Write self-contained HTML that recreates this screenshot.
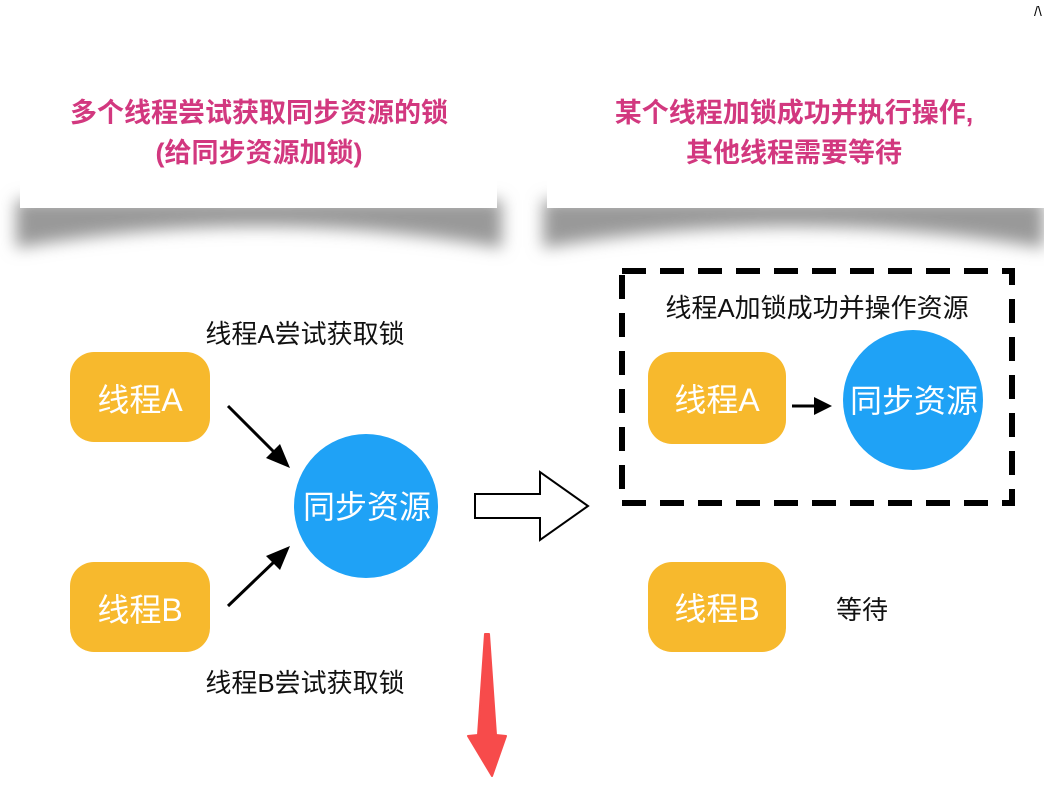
<!DOCTYPE html>
<html><head><meta charset="utf-8"><style>
body{margin:0;width:1044px;height:780px;overflow:hidden;background:#fff;font-family:"Liberation Sans","Noto Sans CJK SC",sans-serif;}
</style></head><body>
<svg width="1044" height="780" viewBox="0 0 1044 780" xmlns="http://www.w3.org/2000/svg" font-family="Liberation Sans, Noto Sans CJK SC, sans-serif">
<defs>
<filter id="b" x="-10%" y="-50%" width="120%" height="200%"><feGaussianBlur stdDeviation="8"/></filter>
</defs>
<path d="M16,200 L502,200 L502,248 Q260,205 16,248 Z" fill="#999" filter="url(#b)"/>
<path d="M543,200 L1044,200 L1044,248 Q790,205 543,248 Z" fill="#999" filter="url(#b)"/>
<rect x="20" y="57" width="477" height="151" fill="#fff"/>
<rect x="547" y="57" width="497" height="151" fill="#fff"/>
<g fill="#d2387f" font-size="27" font-weight="bold" text-anchor="middle">
<text x="259" y="122">多个线程尝试获取同步资源的锁</text>
<text x="259" y="162">(给同步资源加锁)</text>
<text x="794" y="122">某个线程加锁成功并执行操作,</text>
<text x="794" y="162">其他线程需要等待</text>
</g>
<rect x="70" y="352" width="140" height="90" rx="24" fill="#f7b92d"/>
<rect x="70" y="562" width="140" height="90" rx="24" fill="#f7b92d"/>
<circle cx="366" cy="506" r="72" fill="#1fa2f6"/>
<g fill="#fff" font-size="32" text-anchor="middle">
<text x="140" y="411">线程A</text>
<text x="140" y="621">线程B</text>
<text x="367" y="518">同步资源</text>
</g>
<g fill="#111" font-size="26" text-anchor="middle">
<text x="305" y="343">线程A尝试获取锁</text>
<text x="305" y="692">线程B尝试获取锁</text>
</g>
<line x1="228" y1="406" x2="276" y2="454" stroke="#000" stroke-width="3"/>
<polygon points="290,468 266,458 280,444" fill="#000"/>
<line x1="228" y1="606" x2="276" y2="560" stroke="#000" stroke-width="3"/>
<polygon points="290,546 280,570 266,556" fill="#000"/>
<polygon points="475,494 540,494 540,472 588,506 540,540 540,518 475,518" fill="#fff" stroke="#000" stroke-width="2"/>
<rect x="622" y="271" width="390" height="232" fill="none" stroke="#000" stroke-width="6" stroke-dasharray="24,14"/>
<text x="817" y="317" fill="#111" font-size="26" text-anchor="middle">线程A加锁成功并操作资源</text>
<rect x="648" y="352" width="138" height="92" rx="24" fill="#f7b92d"/>
<rect x="648" y="562" width="138" height="90" rx="24" fill="#f7b92d"/>
<circle cx="913" cy="400" r="70" fill="#1fa2f6"/>
<g fill="#fff" font-size="32" text-anchor="middle">
<text x="717" y="411">线程A</text>
<text x="717" y="620">线程B</text>
<text x="914" y="412">同步资源</text>
</g>
<line x1="792" y1="406" x2="816" y2="406" stroke="#000" stroke-width="3"/>
<polygon points="832,406 814,397 814,415" fill="#000"/>
<text x="862" y="619" fill="#111" font-size="26" text-anchor="middle">等待</text>
<polygon points="485,634 489,634 496,735 506,736 492,776 468,736 478,735" fill="#f74b4b" stroke="#f74b4b" stroke-width="2" stroke-linejoin="round"/>
<text x="1034" y="16" font-size="14" fill="#000">/\</text>
</svg>
</body></html>
